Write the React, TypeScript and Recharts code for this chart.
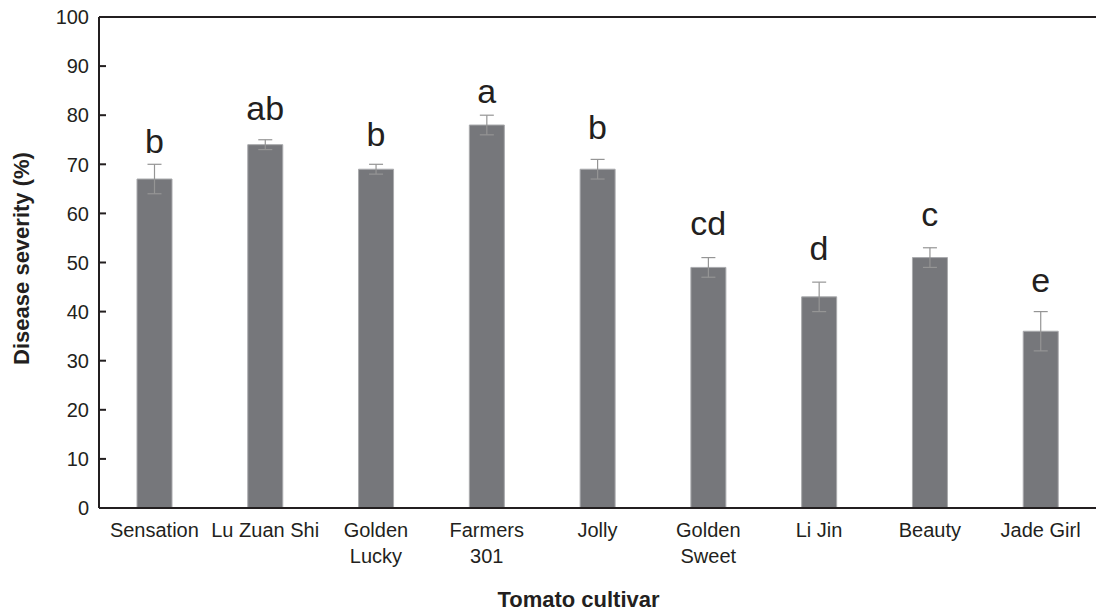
import React from "react";
import {
  ComposedChart,
  Bar,
  Line,
  XAxis,
  YAxis,
  ErrorBar,
  LabelList,
  ReferenceLine,
  Label,
} from "recharts";

const categories = [
  "Sensation",
  "Lu Zuan Shi",
  "Golden\nLucky",
  "Farmers\n301",
  "Jolly",
  "Golden\nSweet",
  "Li Jin",
  "Beauty",
  "Jade Girl",
];
const means = [67, 74, 69, 78, 69, 49, 43, 51, 36];
const errors = [3, 1, 1, 2, 2, 2, 3, 2, 4];
const letters = ["b", "ab", "b", "a", "b", "cd", "d", "c", "e"];
const letterPos = [72.2, 79.0, 73.8, 82.5, 75.2, 55.6, 50.5, 57.4, 44.0];
const yTicks = [0, 10, 20, 30, 40, 50, 60, 70, 80, 90, 100];

const data = categories.map((c, i) => ({
  name: c,
  value: means[i],
  err: errors[i],
  letter: letters[i],
  letterY: letterPos[i],
}));

const FONT = "'Liberation Sans', Arial, Helvetica, sans-serif";
const INK = "#231f20";

const XTick = (props: any) => {
  const { x, y, payload } = props;
  const lines = String(payload.value).split("\n");
  return (
    <text x={x} y={y + 29} textAnchor="middle" fontSize={20} fontFamily={FONT} fill={INK}>
      {lines.map((l, i) => (
        <tspan key={i} x={x} dy={i === 0 ? 0 : 26}>
          {l}
        </tspan>
      ))}
    </text>
  );
};

const YTick = (props: any) => {
  const { x, y, payload } = props;
  return (
    <g>
      <rect x={x} y={y - 1} width={7} height={2} fill={INK} />
      <text x={x - 10} y={y} dy="0.36em" textAnchor="end" fontSize={20} fontFamily={FONT} fill={INK}>
        {payload.value}
      </text>
    </g>
  );
};

const LetterLabel = (props: any) => {
  const { x, y, index } = props;
  return (
    <text x={x} y={y} textAnchor="middle" fontSize={34} fontFamily={FONT} fill={INK}>
      {letters[index]}
    </text>
  );
};

export default function App() {
  return (
    <div style={{ position: "absolute", left: 0, top: 0, background: "#fff" }}>
      <ComposedChart
        width={1096}
        height={612}
        data={data}
        margin={{ top: 17, right: 0, bottom: 0, left: 0 }}
      >
        <XAxis
          dataKey="name"
          height={104}
          tickLine={false}
          tickSize={0}
          tickMargin={0}
          interval={0}
          tick={<XTick />}
          axisLine={{ stroke: INK, strokeWidth: 2 }}
        >
          <Label
            value="Tomato cultivar"
            content={(p: any) => {
              const vb = p.viewBox;
              return (
                <text
                  x={vb.x + vb.width / 2 - 19}
                  y={vb.y + 99}
                  textAnchor="middle"
                  fontSize={22}
                  fontWeight="bold"
                  fontFamily={FONT}
                  fill={INK}
                >
                  Tomato cultivar
                </text>
              );
            }}
          />
        </XAxis>
        <YAxis
          width={99}
          domain={[0, 100]}
          ticks={yTicks}
          tickLine={false}
          tickSize={0}
          tickMargin={0}
          tick={<YTick />}
          axisLine={{ stroke: INK, strokeWidth: 2 }}
        >
          <Label
            content={(p: any) => {
              const vb = p.viewBox;
              const cx = 29;
              const cy = vb.y + vb.height / 2 - 4;
              return (
                <text
                  x={cx}
                  y={cy}
                  textAnchor="middle"
                  transform={`rotate(-90 ${cx} ${cy})`}
                  fontSize={22}
                  fontWeight="bold"
                  fontFamily={FONT}
                  fill={INK}
                >
                  Disease severity (%)
                </text>
              );
            }}
          />
        </YAxis>
        <ReferenceLine y={100} stroke={INK} strokeWidth={2} ifOverflow="visible" />
        <Bar
          dataKey="value"
          barSize={35}
          fill="#76777b"
          stroke="#a9aaad"
          strokeWidth={1}
          isAnimationActive={false}
        >
          <ErrorBar dataKey="err" width={7} stroke="#959595" strokeWidth={1.2} />
        </Bar>
        <Line
          dataKey="letterY"
          stroke="none"
          dot={false}
          activeDot={false}
          isAnimationActive={false}
        >
          <LabelList dataKey="letter" content={<LetterLabel />} />
        </Line>
      </ComposedChart>
    </div>
  );
}
